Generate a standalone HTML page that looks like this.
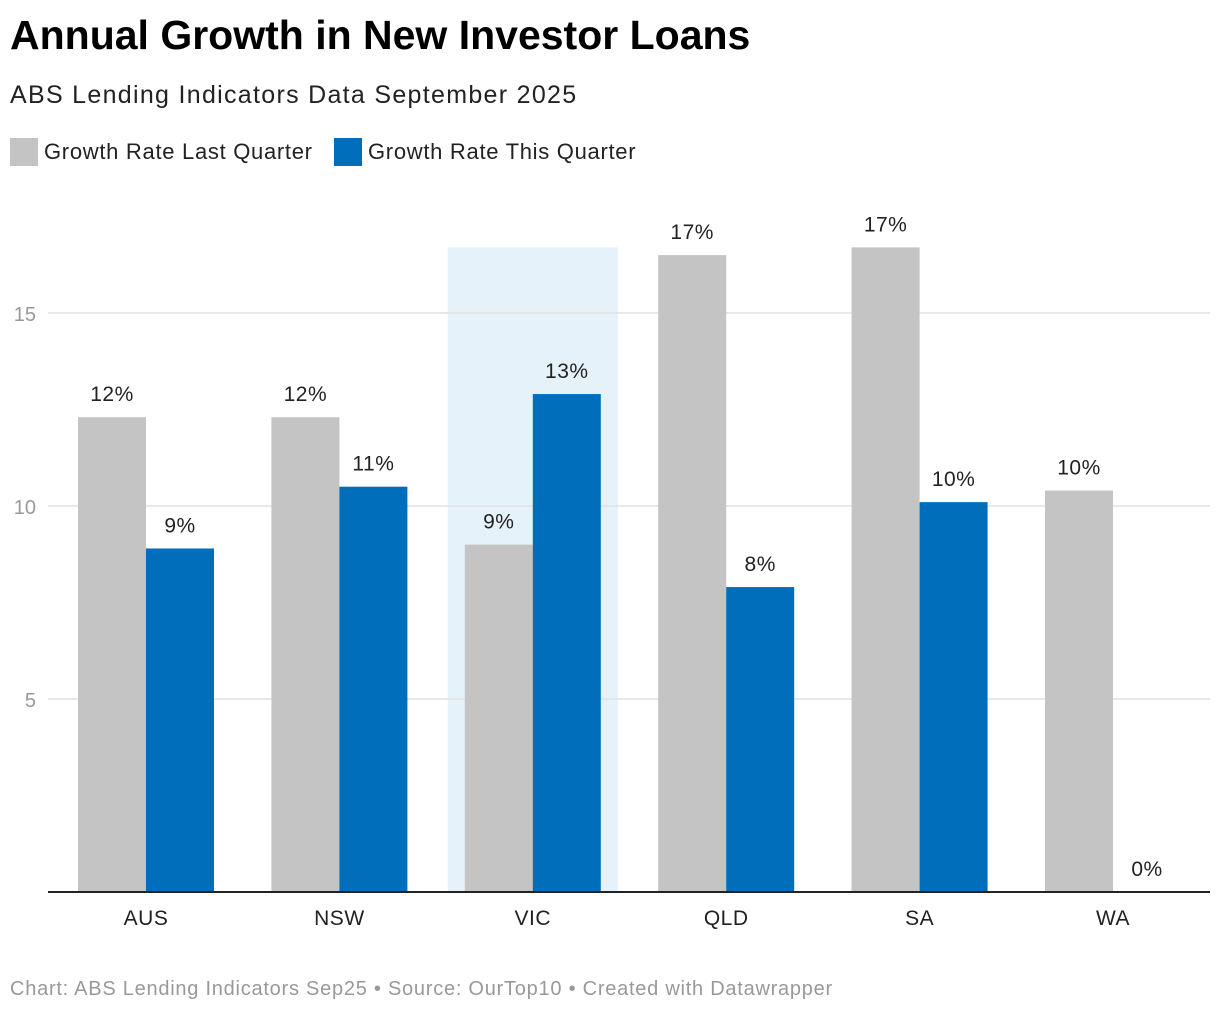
<!DOCTYPE html>
<html><head><meta charset="utf-8"><style>
body{margin:0;width:1220px;height:1014px;background:#fff;font-family:"Liberation Sans",sans-serif;overflow:hidden;position:relative}
.t{position:absolute;left:10px;top:12px;font-size:41px;font-weight:bold;color:#000;letter-spacing:0px}
.s{position:absolute;left:10px;top:81px;font-size:25px;color:#222;letter-spacing:1.3px}
.lg{position:absolute;top:138px;font-size:22px;color:#222;display:flex;align-items:center;letter-spacing:0.7px}
.sw{width:28px;height:28px;margin-right:6px}
.f{position:absolute;left:10px;top:978px;font-size:20px;color:#999;letter-spacing:0.75px}
</style></head><body>
<div class="t">Annual Growth in New Investor Loans</div>
<div class="s">ABS Lending Indicators Data September 2025</div>
<div class="lg" style="left:10px"><div class="sw" style="background:#c4c4c4"></div>Growth Rate Last Quarter</div>
<div class="lg" style="left:334px"><div class="sw" style="background:#006ebb"></div>Growth Rate This Quarter</div>
<svg id="c" width="1220" height="1014" style="position:absolute;left:0;top:0"></svg>
<div class="f">Chart: ABS Lending Indicators Sep25 • Source: OurTop10 • Created with Datawrapper</div>
<script>
const categories=["AUS","NSW","VIC","QLD","SA","WA"];
const lastQuarter=[12.3,12.3,9.0,16.5,16.7,10.4];
const thisQuarter=[8.9,10.5,12.9,7.9,10.1,0];
const lastLabels=["12%","12%","9%","17%","17%","10%"];
const thisLabels=["9%","11%","13%","8%","10%","0%"];
const yTicks=[5,10,15];
const highlight="VIC";
const NS="http://www.w3.org/2000/svg";
const svg=document.getElementById('c');
const y=v=>892-v*38.6;
const cx=i=>146+i*193.4;
function mk(t,a,p){const e=document.createElementNS(NS,t);for(const k in a)e.setAttribute(k,a[k]);(p||svg).appendChild(e);return e;}
const hi=categories.indexOf(highlight);
const maxV=Math.max(...lastQuarter,...thisQuarter);
const hb=mk('rect',{x:cx(hi)-85,y:y(maxV),width:170,height:y(0)-y(maxV),fill:'#e6f2f9'});


yTicks.forEach(v=>{
 const l=mk('line',{x1:48,x2:1210,y1:y(v),y2:y(v),stroke:'#e0e0e0','stroke-width':1.5});
 
 
 const t=mk('text',{x:36,y:y(v)+8,'text-anchor':'end','font-size':20,fill:'#999'});t.textContent=v;
 
 
});
categories.forEach((c,i)=>{
 const x=cx(i);
 [[lastQuarter,lastLabels,'#c4c4c4',-68,'last'],[thisQuarter,thisLabels,'#006ebb',0,'this']].forEach(([vals,labs,col,off,nm])=>{
  const v=vals[i];
  const r=mk('rect',{x:x+off,y:y(v),width:68,height:y(0)-y(v),fill:col});
  
  
  const t=mk('text',{x:x+off+34,y:y(v)-16,'text-anchor':'middle','font-size':21,fill:'#222','letter-spacing':0.5});t.textContent=labs[i];
  
  
 });
 const t=mk('text',{x:x,y:925,'text-anchor':'middle','font-size':21,fill:'#222','letter-spacing':0.5});t.textContent=c;
 
 
});
const ax=mk('line',{x1:48,x2:1210,y1:892,y2:892,stroke:'#222','stroke-width':2});


</script>
</body></html>
